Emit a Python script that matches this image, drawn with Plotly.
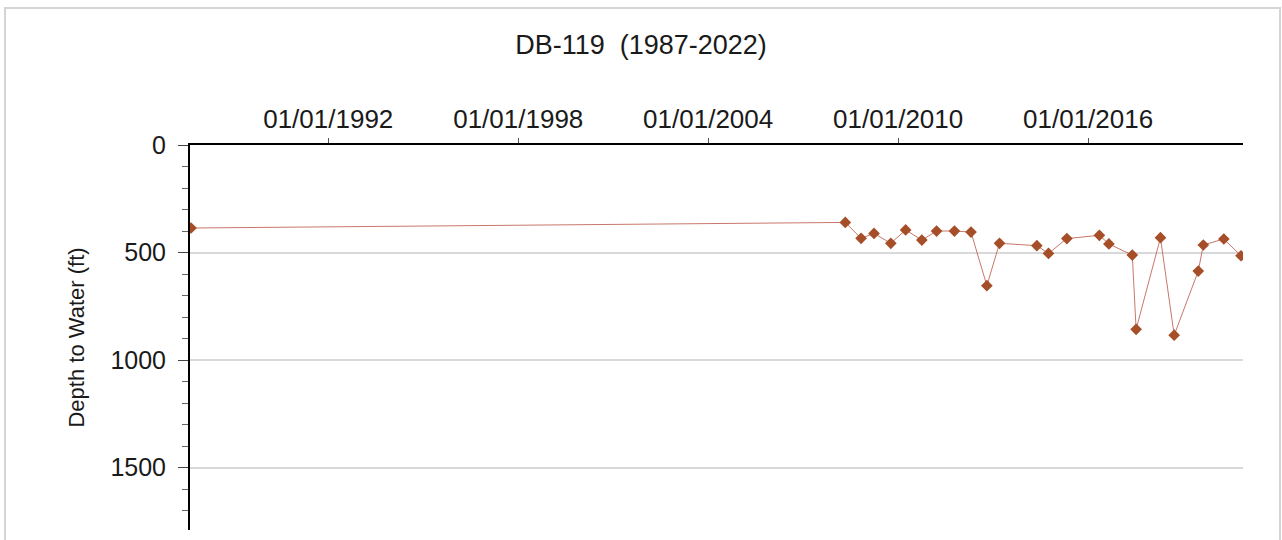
import plotly.graph_objects as go

dates = ["1987-09-01", "2008-05-01", "2008-10-30", "2009-03-28", "2009-10-08",
         "2010-03-28", "2010-10-01", "2011-03-20", "2011-10-12", "2012-04-20",
         "2012-10-20", "2013-03-15", "2014-05-20", "2014-10-01", "2015-05-01",
         "2016-05-10", "2016-08-28", "2017-05-25", "2017-07-08", "2018-04-15",
         "2018-09-20", "2019-06-25", "2019-08-22", "2020-04-15", "2020-10-30"]
depth = [386, 360, 434, 411, 457, 395, 442, 400, 400, 405,
         654, 457, 468, 504, 435, 420, 460, 512, 857, 431,
         884, 586, 465, 437, 515]

x_tickvals = ["1992-01-01", "1998-01-01", "2004-01-01", "2010-01-01", "2016-01-01"]
x_ticktext = ["01/01/1992", "01/01/1998", "01/01/2004", "01/01/2010", "01/01/2016"]
y_tickvals = [0, 500, 1000, 1500]

FONT = "Liberation Sans, Arial, sans-serif"

fig = go.Figure()
fig.add_trace(go.Scatter(
    x=dates, y=depth, mode="lines+markers",
    line=dict(color="rgba(190,95,80,0.85)", width=1),
    marker=dict(symbol="diamond", size=9, color="#A54E28"),
    showlegend=False,
))

fig.update_layout(
    width=1282, height=540,
    margin=dict(l=190, r=39, t=145, b=10),
    paper_bgcolor="white", plot_bgcolor="white",
    font=dict(family=FONT, color="#1a1a1a"),
    title=dict(text="DB-119  (1987-2022)", x=0.5, xanchor="center",
               y=1 - 45 / 540, yanchor="middle",
               font=dict(size=27, family=FONT, color="#1a1a1a")),
    xaxis=dict(
        type="date", side="top",
        range=["1987-08-20", "2020-11-22"],
        tickvals=x_tickvals, ticktext=x_ticktext,
        ticks="outside", ticklen=5, tickwidth=1, tickcolor="#555",
        showline=True, linecolor="black", linewidth=2,
        showgrid=False, zeroline=False,
        tickfont=dict(size=26, family=FONT, color="#1a1a1a"),
    ),
    yaxis=dict(
        range=[1790, 0],
        tickvals=y_tickvals,
        ticks="outside", ticklen=10, tickwidth=1, tickcolor="#444",
        ticklabelstandoff=7,
        minor=dict(dtick=100, ticks="outside", ticklen=6, tickcolor="#666", showgrid=False),
        showline=True, linecolor="black", linewidth=2,
        showgrid=True, gridcolor="#d9d9d9", gridwidth=2,
        zeroline=False,
        tickfont=dict(size=25, family=FONT, color="#1a1a1a"),
        title=dict(text="Depth to Water (ft)", standoff=20,
                   font=dict(size=22, family=FONT, color="#1a1a1a")),
    ),
    shapes=[dict(type="rect", xref="paper", yref="paper",
                 x0=(5 - 190) / 1053, x1=(1280 - 190) / 1053,
                 y0=-0.2, y1=(530 - 8) / 385,
                 line=dict(color="#d4d4d4", width=2), fillcolor="rgba(0,0,0,0)",
                 layer="below")],
)

fig.write_html("out.html", config={"displayModeBar": False},
               post_script="document.body.style.margin='0';document.body.style.overflow='hidden';")
